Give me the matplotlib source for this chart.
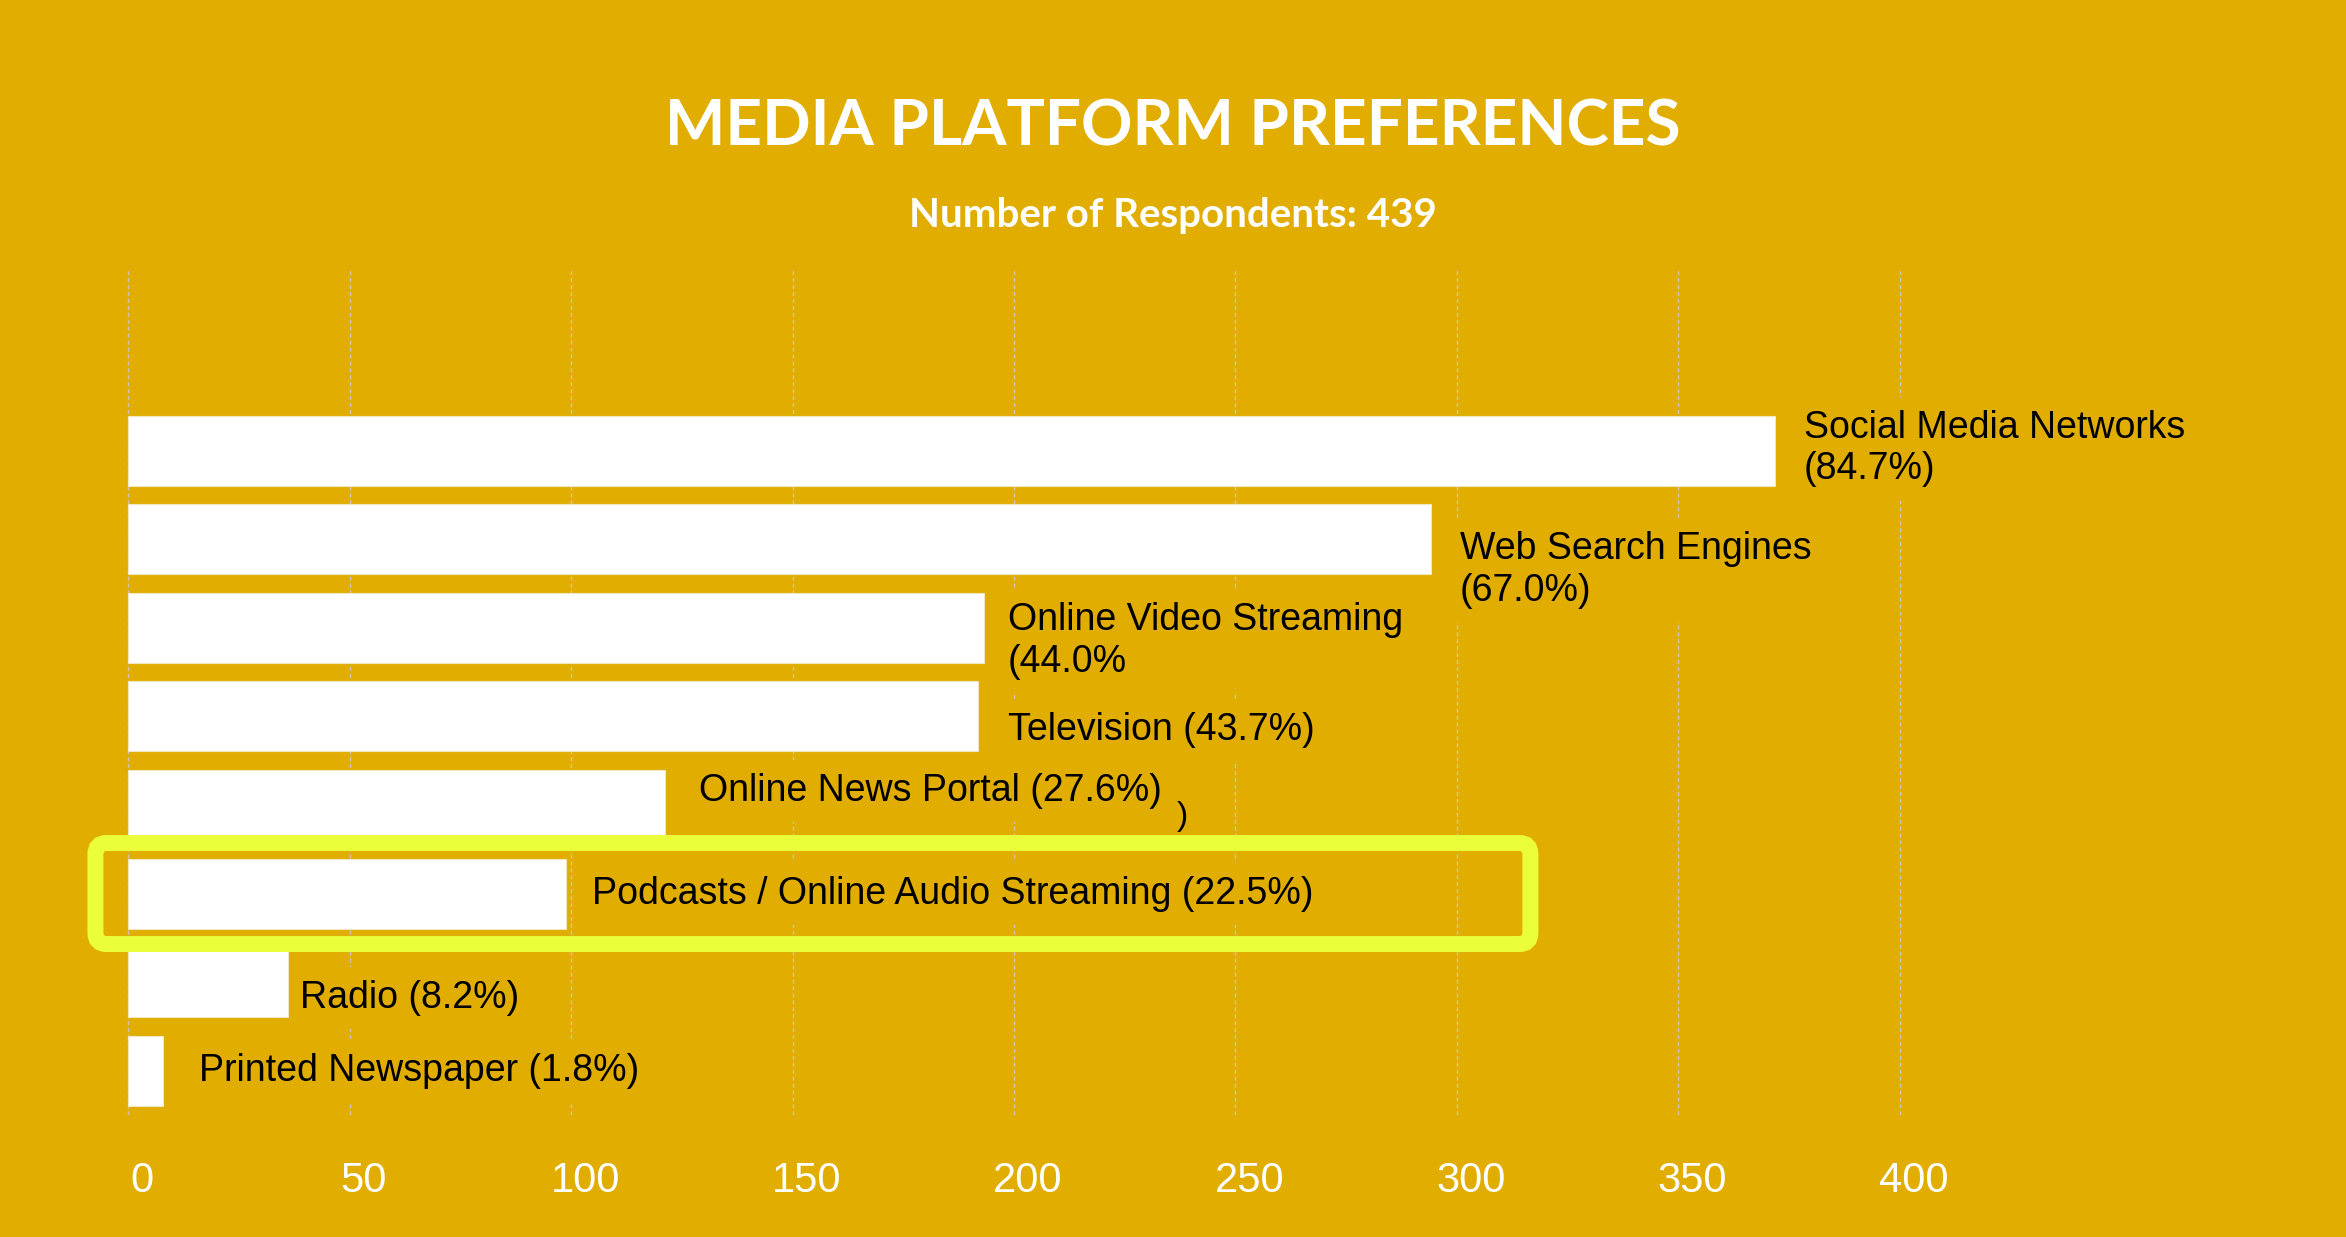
import matplotlib
matplotlib.use("Agg")
import matplotlib.pyplot as plt
from matplotlib.patches import FancyBboxPatch
from matplotlib.transforms import ScaledTranslation

# ---- data ----
respondents = 439
platforms = [
    "Social Media Networks",
    "Web Search Engines",
    "Online Video Streaming",
    "Television",
    "Online News Portal",
    "Podcasts / Online Audio Streaming",
    "Radio",
    "Printed Newspaper",
]
shares_pct = [84.7, 67.0, 44.0, 43.7, 27.6, 22.5, 8.2, 1.8]
bar_labels = [
    "Social Media Networks\n(84.7%)",
    "Web Search Engines\n(67.0%)",
    "Online Video Streaming\n(44.0%",
    "Television (43.7%)",
    "Online News Portal (27.6%)",
    "Podcasts / Online Audio Streaming (22.5%)",
    "Radio (8.2%)",
    "Printed Newspaper (1.8%)",
]
x_ticks = [0, 50, 100, 150, 200, 250, 300, 350, 400]
highlighted = "Podcasts / Online Audio Streaming"

# label placement (pixels from bar end / bar centre)
label_offsets = [(29, 2), (29, -31), (24, -13), (30, -14),
                 (34, 14), (26, 0), (12, -16), (36, 0)]

BG = "#E0AD00"
HIGHLIGHT = "#EAFF3A"
GRID = "#CFC6B2"

counts = [p / 100 * respondents for p in shares_pct]
ypos = list(range(len(platforms)))

W, H, DPI = 2346, 1237, 100
fig = plt.figure(figsize=(W / DPI, H / DPI), dpi=DPI, facecolor=BG)

ax_left, ax_right = 126 / W, 1902 / W
ax_top, ax_bottom = 269 / H, 1115 / H
ax = fig.add_axes([ax_left, 1 - ax_bottom, ax_right - ax_left, ax_bottom - ax_top])
ax.set_facecolor(BG)

ax.barh(ypos, counts, height=0.79, color="white", edgecolor="#F2E6C0",
        linewidth=0.8, zorder=3)

ax.set_xlim(-0.5, 400.5)
ax.set_ylim(7.5, -2.05)
ax.set_xticks(x_ticks)
ax.set_xticklabels([str(t) for t in x_ticks])
ax.set_yticks([])
for s in ax.spines.values():
    s.set_visible(False)
ax.grid(axis="x", color=GRID, linestyle=(0, (3, 2)), linewidth=1.0, zorder=0)
ax.set_axisbelow(True)
ax.tick_params(axis="x", length=0, pad=33, labelcolor="white", labelsize=30)
for lab in ax.get_xticklabels():
    lab.set_fontfamily(["Liberation Sans", "DejaVu Sans"])
    lab.set_transform(lab.get_transform() + ScaledTranslation(0.14, 0, fig.dpi_scale_trans))

# value labels (boxes sit under the bars, over the grid)
for i, (c, txt, (dx, dy)) in enumerate(zip(counts, bar_labels, label_offsets)):
    ax.annotate(txt, xy=(c, i), xytext=(dx, dy), textcoords="offset pixels",
                ha="left", va="center", fontsize=27, color="black",
                family=["Liberation Sans", "DejaVu Sans"], linespacing=1.2,
                bbox=dict(boxstyle="square,pad=0.35", fc=BG, ec="none"),
                zorder=2, annotation_clip=False)

# stray closing bracket beside the news-portal label
ax.text(238, 4.13, ")", ha="center", va="center", fontsize=24,
        family=["Liberation Sans", "DejaVu Sans"], color="black", zorder=4)

# highlight frame around the podcasts row
hi = platforms.index(highlighted)
px_per_x = (1902 - 126) / 401
px_per_y = (1115 - 269) / 9.55
frame = FancyBboxPatch((-7.4, hi - 0.57), 324, 1.14,
                       boxstyle="round,pad=0,rounding_size=2.5",
                       mutation_aspect=px_per_x / px_per_y,
                       fc="none", ec=HIGHLIGHT, lw=11.5, zorder=5,
                       clip_on=False)
ax.add_patch(frame)

# titles
fig.text(0.5, 1 - 145 / H, "MEDIA PLATFORM PREFERENCES", ha="center",
         va="baseline", fontsize=46, fontweight="bold", color="white",
         family=["Lato", "DejaVu Sans"])
fig.text(0.5, 1 - 227 / H, f"Number of Respondents: {respondents}",
         ha="center", va="baseline", fontsize=29, fontweight="bold",
         color="white", family=["Lato", "DejaVu Sans"])

fig.savefig("out.png", dpi=DPI, facecolor=BG)
